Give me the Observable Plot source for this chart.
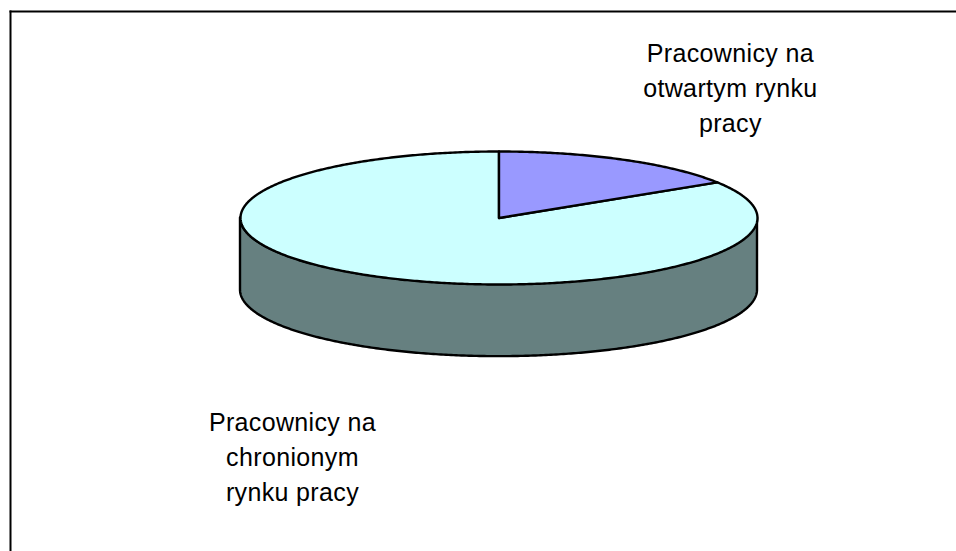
<!DOCTYPE html>
<html>
<head>
<meta charset="utf-8">
<script src="https://cdn.jsdelivr.net/npm/d3@7"></script>
<script src="https://cdn.jsdelivr.net/npm/@observablehq/plot@0.6"></script>
<style>
  html, body { margin: 0; padding: 0; background: #fff; }
  svg { display: block; }
</style>
</head>
<body>
<div id="chart"></div>
<script>
const categories = ["Pracownicy na otwartym rynku pracy", "Pracownicy na chronionym rynku pracy"];
const shares = [16, 84];
const sliceColors = ["#9999FF", "#CCFFFF"];
const wallColor = "#668080";
const labelLines = ["Pracownicy na\notwartym rynku\npracy", "Pracownicy na\nchronionym\nrynku pracy"];

const depth = 1.085;
const total = d3.sum(shares);
const tau = Math.PI * 2;
const angles = d3.cumsum(shares).map((v) => (v / total) * tau);

function arc(a0, a1, dy = 0) {
  const n = Math.max(2, Math.ceil(Math.abs(a1 - a0) / 0.01));
  return d3.range(n + 1).map((i) => {
    const a = a0 + ((a1 - a0) * i) / n;
    return { x: Math.sin(a), y: Math.cos(a) + dy };
  });
}

const wedge = categories.flatMap((name, i) => {
  const start = i === 0 ? 0 : angles[i - 1];
  return [{ x: 0, y: 0 }, ...arc(start, angles[i]), { x: 0, y: 0 }].map((p) => ({ ...p, name }));
});

const wall = arc(Math.PI / 2, (3 * Math.PI) / 2).map((p) => ({ x: p.x, top: p.y, bottom: p.y - depth }));

const labels = [
  { text: labelLines[0], x: 0.895, y: 1.985 },
  { text: labelLines[1], x: -0.799, y: -3.555 }
];

const plot = Plot.plot({
  width: 956,
  height: 551,
  marginLeft: 10,
  marginTop: 11,
  marginRight: 0,
  marginBottom: 0,
  x: { domain: [-1, 1], range: [240, 757], axis: null },
  y: { domain: [-1, 1], range: [284, 151], axis: null },
  color: { domain: categories, range: sliceColors },
  style: { background: "#fff" },
  marks: [
    Plot.frame({ anchor: "left", stroke: "#000", strokeWidth: 2 }),
    Plot.frame({ anchor: "top", stroke: "#000", strokeWidth: 2 }),
    Plot.areaY(wall, { x: "x", y1: "bottom", y2: "top", fill: wallColor, stroke: "#000", strokeWidth: 2.4 }),
    Plot.line(wedge.filter((d) => d.name === categories[1]), {
      x: "x", y: "y", z: "name", fill: "name", stroke: "#000", strokeWidth: 2.4, strokeLinejoin: "round"
    }),
    Plot.line(wedge.filter((d) => d.name === categories[0]), {
      x: "x", y: "y", z: "name", fill: "name", stroke: "#000", strokeWidth: 2.4, strokeLinejoin: "round"
    }),
    Plot.text(labels, {
      x: "x", y: "y", text: "text", fontSize: 25, lineHeight: 1.4,
      fontFamily: "'Liberation Sans', Arial, sans-serif", fill: "#000", textAnchor: "middle"
    })
  ]
});
plot.querySelectorAll("text").forEach((t) => t.setAttribute("letter-spacing", "0.35"));
document.getElementById("chart").append(plot);
</script>
</body>
</html>
